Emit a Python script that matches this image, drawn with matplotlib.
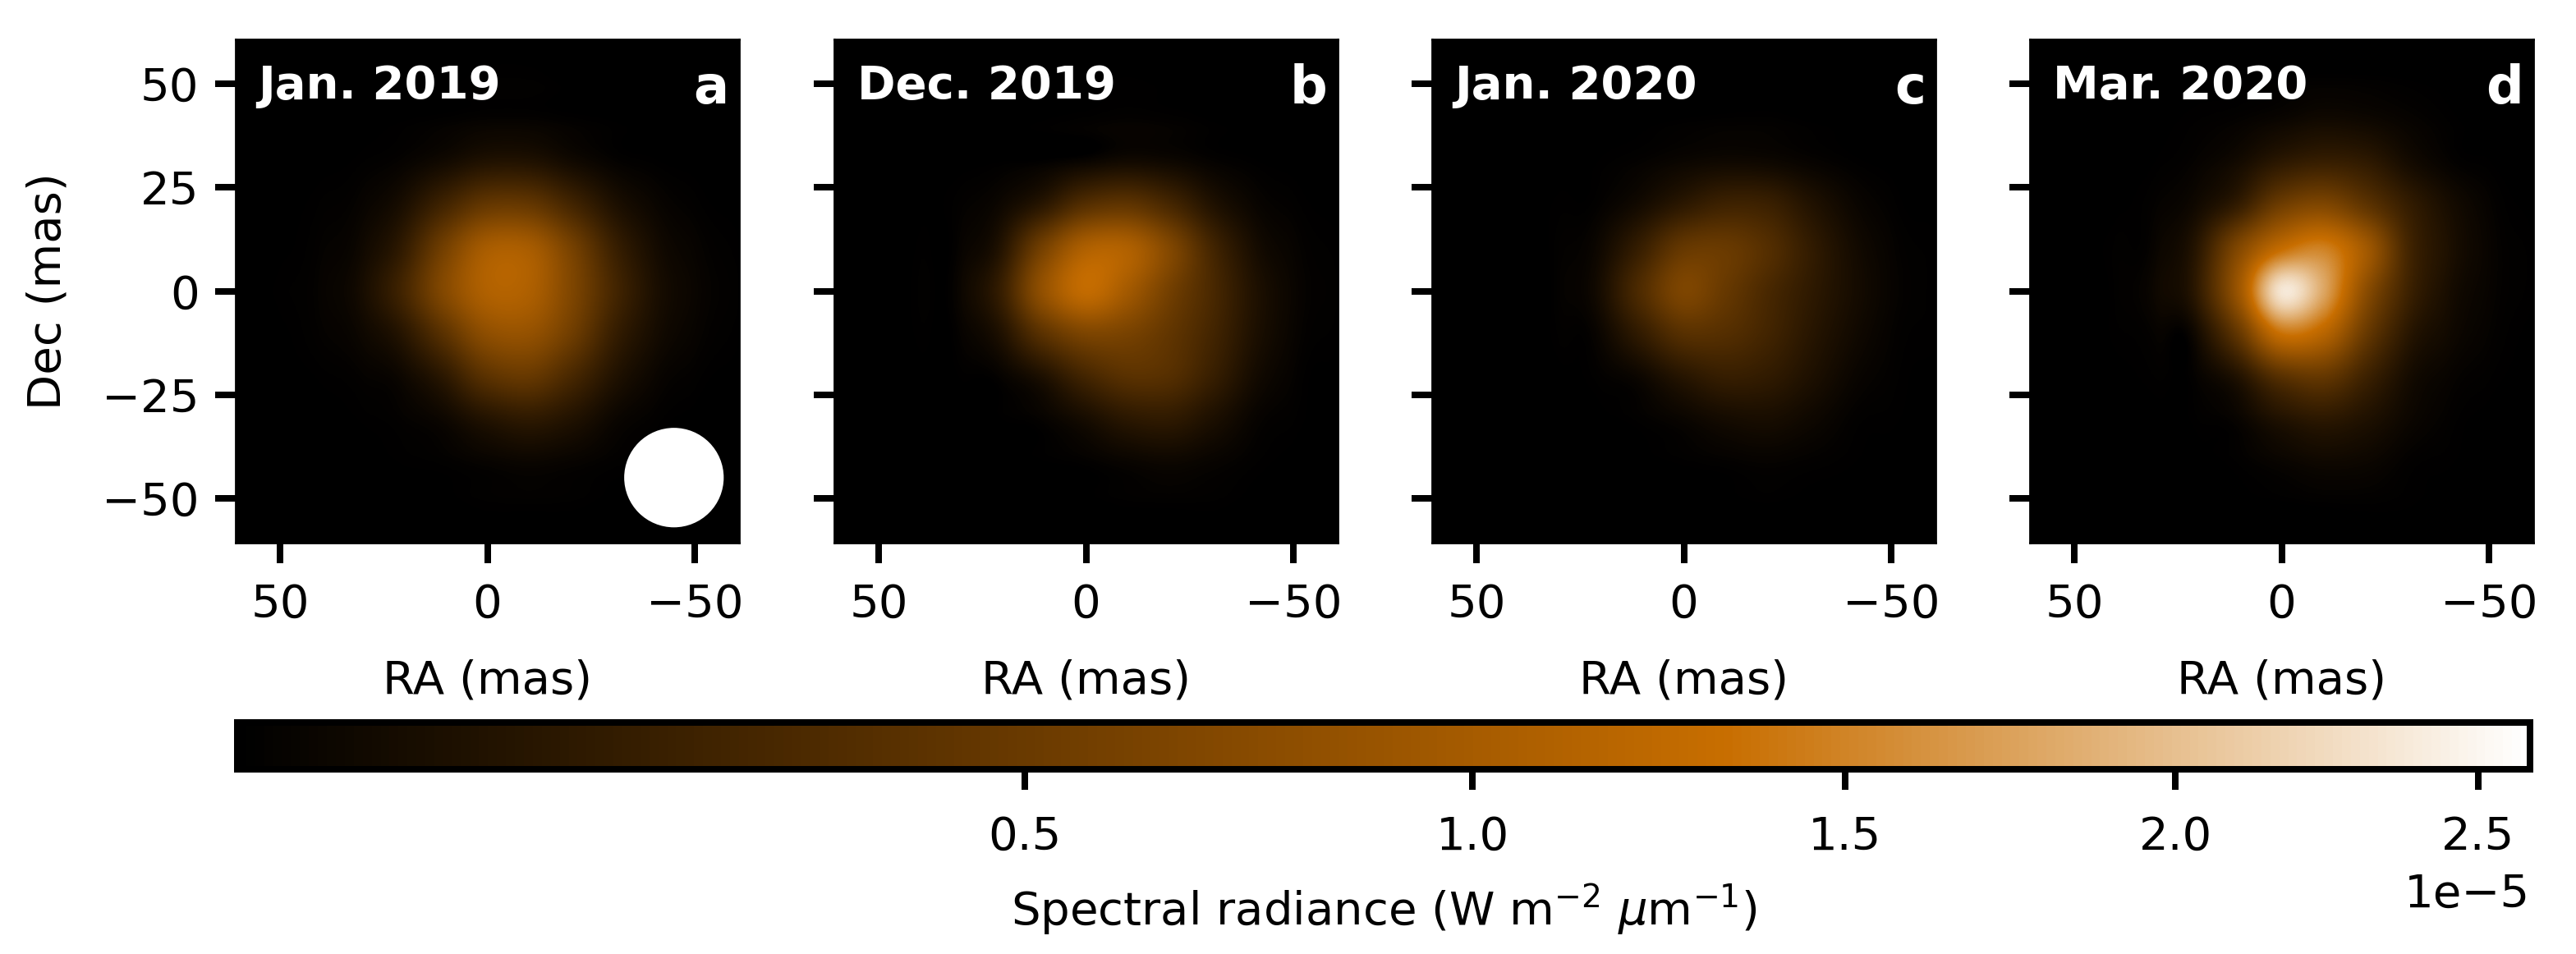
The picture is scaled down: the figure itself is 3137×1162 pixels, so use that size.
import numpy as np
import matplotlib
matplotlib.use('Agg')
import matplotlib.pyplot as plt
from matplotlib.colors import LinearSegmentedColormap, PowerNorm
from matplotlib.patches import Circle

W, H = 3137, 1162
DPI = 400

# panel info
titles = ['Jan. 2019', 'Dec. 2019', 'Jan. 2020', 'Mar. 2020']
letters = ['a', 'b', 'c', 'd']
ticks = [-50, 0, 50]
yticks = [-50, -25, 0, 25, 50]
cbar_ticks = [0.5e-5, 1.0e-5, 1.5e-5, 2.0e-5, 2.5e-5]

# brightness maps in 1e-5 W m-2 um-1
# rows Dec +60 -> -60, columns RA +60 -> -60, 10 mas apart
map_a = [
    [0, 0, 0, 0, 0, 0, 0, 0, 0, 0, 0, 0, 0],
    [0, 0, 0, 0, 0, 0, .002, .002, 0, 0, 0, 0, 0],
    [0, 0, 0, 0, .001, .005, .012, .012, .005, .001, 0, 0, 0],
    [0, 0, 0, .002, .012, .05, .11, .11, .05, .012, .002, 0, 0],
    [0, 0, .002, .012, .07, .27, .50, .50, .28, .09, .02, .003, 0],
    [0, 0, .005, .03, .17, .60, 1.03, 1.03, .62, .22, .05, .01, .001],
    [0, .001, .008, .05, .26, .72, 1.10, 1.08, .68, .28, .07, .015, .002],
    [0, 0, .005, .025, .12, .42, .80, .85, .56, .20, .05, .01, .001],
    [0, 0, .001, .006, .03, .15, .42, .50, .30, .10, .02, .003, 0],
    [0, 0, 0, .001, .006, .03, .11, .16, .10, .025, .004, 0, 0],
    [0, 0, 0, 0, .001, .004, .015, .025, .015, .004, .001, 0, 0],
    [0, 0, 0, 0, 0, 0, .002, .003, .002, 0, 0, 0, 0],
    [0, 0, 0, 0, 0, 0, 0, 0, 0, 0, 0, 0, 0],
]
map_b = [
    [0, 0, 0, 0, 0, 0, 0, 0, 0, 0, 0, 0, 0],
    [0, 0, 0, 0, 0, 0, 0, .001, 0, 0, 0, 0, 0],
    [0, 0, 0, 0, 0, .001, .004, .008, .005, .001, 0, 0, 0],
    [0, 0, 0, 0, .002, .01, .035, .06, .04, .012, .002, 0, 0],
    [0, 0, 0, .004, .03, .15, .40, .47, .30, .10, .02, .003, 0],
    [0, 0, .001, .01, .11, .62, 1.10, 1.10, .70, .27, .06, .01, .001],
    [0, 0, .002, .02, .20, .85, 1.28, .98, .58, .30, .09, .015, .002],
    [0, 0, .001, .008, .09, .42, .66, .62, .45, .26, .08, .012, .001],
    [0, 0, 0, .001, .012, .09, .27, .40, .37, .20, .05, .006, 0],
    [0, 0, 0, 0, .001, .012, .06, .14, .16, .08, .015, .002, 0],
    [0, 0, 0, 0, 0, .001, .006, .02, .03, .015, .003, 0, 0],
    [0, 0, 0, 0, 0, 0, 0, .002, .003, .002, 0, 0, 0],
    [0, 0, 0, 0, 0, 0, 0, 0, 0, 0, 0, 0, 0],
]
map_c = [
    [0, 0, 0, 0, 0, 0, 0, 0, 0, 0, 0, 0, 0],
    [0, 0, 0, 0, 0, 0, 0, 0, 0, 0, 0, 0, 0],
    [0, 0, 0, 0, 0, 0, .002, .004, .004, .001, 0, 0, 0],
    [0, 0, 0, 0, .001, .008, .025, .04, .035, .015, .003, 0, 0],
    [0, 0, 0, .001, .006, .05, .15, .24, .22, .10, .025, .003, 0],
    [0, 0, 0, .003, .03, .20, .48, .50, .36, .17, .05, .008, .001],
    [0, 0, 0, .004, .05, .33, .65, .48, .29, .15, .055, .01, .001],
    [0, 0, 0, .002, .02, .17, .38, .36, .25, .12, .04, .006, .001],
    [0, 0, 0, 0, .004, .03, .12, .19, .16, .08, .02, .003, 0],
    [0, 0, 0, 0, 0, .004, .02, .05, .06, .03, .005, .001, 0],
    [0, 0, 0, 0, 0, 0, .002, .006, .01, .005, .001, 0, 0],
    [0, 0, 0, 0, 0, 0, 0, 0, .001, 0, 0, 0, 0],
    [0, 0, 0, 0, 0, 0, 0, 0, 0, 0, 0, 0, 0],
]
map_d = [
    [0, 0, 0, 0, 0, 0, 0, 0, 0, 0, 0, 0, 0],
    [0, 0, 0, 0, 0, 0, .002, .004, .003, .001, 0, 0, 0],
    [0, 0, 0, 0, .002, .008, .025, .045, .034, .013, .002, 0, 0],
    [0, 0, 0, .001, .01, .05, .16, .22, .17, .056, .01, .001, 0],
    [0, 0, 0, .006, .04, .20, .58, .72, .46, .19, .056, .008, 0],
    [0, 0, .002, .015, .13, .72, 1.32, 1.50, 1.00, .28, .075, .012, .001],
    [0, 0, .002, .025, .16, .95, 2.35, 1.80, .80, .24, .056, .01, .001],
    [0, 0, .001, .008, .05, .50, 1.38, 1.20, .52, .135, .034, .006, 0],
    [0, 0, 0, .002, .01, .11, .42, .50, .24, .056, .012, .002, 0],
    [0, 0, 0, 0, .002, .018, .10, .15, .09, .025, .004, 0, 0],
    [0, 0, 0, 0, 0, .003, .018, .034, .025, .005, .001, 0, 0],
    [0, 0, 0, 0, 0, 0, .001, .003, .003, .001, 0, 0, 0],
    [0, 0, 0, 0, 0, 0, 0, 0, 0, 0, 0, 0, 0],
]
maps = [map_a, map_b, map_c, map_d]

# restoring beam, panel a
beam_pos = (-45, -45)
beam_radius = 12

cmap = LinearSegmentedColormap.from_list(
    'copper_white', [(0, 'black'), (0.65, '#c86e00'), (1, 'white')], N=256)
norm = PowerNorm(gamma=0.65, vmin=0, vmax=2.59e-5)

plt.rcParams['font.size'] = 10.1
plt.rcParams['axes.linewidth'] = 0.5

fig = plt.figure(figsize=(W / DPI, H / DPI), dpi=DPI)

# left edges in pixels
lefts = [286, 1015, 1743, 2471]
lim = 60.7

for i in range(4):
    ax = fig.add_axes([lefts[i] / W, (H - 661) / H, 615 / W, 613 / H])
    im = ax.imshow(np.array(maps[i]) * 1e-5, cmap=cmap, norm=norm,
                   extent=[65, -65, -65, 65], interpolation='catrom')
    ax.set_xlim(lim, -lim)
    ax.set_ylim(-lim, lim)
    ax.set_xticks(ticks)
    ax.set_yticks(yticks)
    ax.tick_params(length=4.5, width=1.44)
    ax.tick_params(axis='x', pad=4.3)
    ax.set_xlabel('RA (mas)', labelpad=7)
    if i == 0:
        ax.set_ylabel('Dec (mas)', labelpad=7)
        ax.add_patch(Circle(beam_pos, beam_radius, color='white', lw=0))
    else:
        ax.tick_params(labelleft=False)
    ax.text(0.045, 0.883, titles[i], transform=ax.transAxes, color='white',
            fontweight='bold', fontsize=10.1, ha='left', va='baseline')
    ax.text(0.98, 0.873, letters[i], transform=ax.transAxes, color='white',
            fontweight='bold', fontsize=11.5, ha='right', va='baseline')

cax = fig.add_axes([289 / W, (H - 937) / H, 2792 / W, 57 / H])
cbar = fig.colorbar(im, cax=cax, orientation='horizontal')
cbar.set_ticks(cbar_ticks)
cbar.minorticks_off()
cbar.ax.tick_params(length=4.5, width=1.44, pad=5.5)
cbar.outline.set_linewidth(1.44)
cbar.set_label(r'Spectral radiance (W m$^{-2}$ $\mu$m$^{-1}$)', labelpad=5)

fig.savefig('out.png', dpi=DPI)
